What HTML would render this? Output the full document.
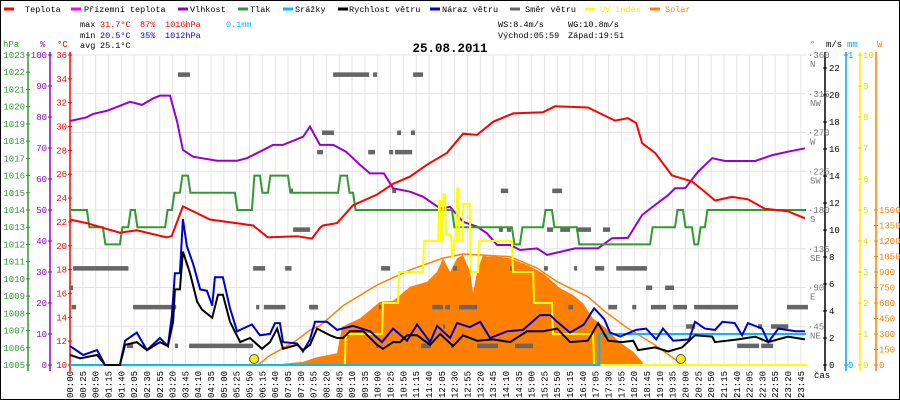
<!DOCTYPE html>
<html><head><meta charset="utf-8"><style>
html,body{margin:0;padding:0;background:#fff;}
svg{display:block;}
text{font-family:"Liberation Mono",monospace;}
</style></head><body>
<svg id="c" width="900" height="400" xmlns="http://www.w3.org/2000/svg">
<rect x="0.5" y="0.5" width="899" height="399" fill="#fff" stroke="#000"/>
<g font-size="8.5">
<line x1="4" y1="9" x2="14" y2="9" stroke="#f00" stroke-width="3"/><text x="25" y="12" fill="#000">Teplota</text>
<line x1="71" y1="9" x2="81" y2="9" stroke="#f0f" stroke-width="3"/><text x="84" y="12">Přízemní teplota</text>
<line x1="178" y1="9" x2="188" y2="9" stroke="#9900cc" stroke-width="3"/><text x="190" y="12">Vlhkost</text>
<line x1="238" y1="9" x2="248" y2="9" stroke="#339933" stroke-width="3"/><text x="250" y="12">Tlak</text>
<line x1="283" y1="9" x2="293" y2="9" stroke="#00bbff" stroke-width="3"/><text x="295" y="12">Srážky</text>
<line x1="338" y1="9" x2="348" y2="9" stroke="#000" stroke-width="3"/><text x="349" y="12">Rychlost větru</text>
<line x1="430" y1="9" x2="440" y2="9" stroke="#0000cc" stroke-width="3"/><text x="442" y="12">Náraz větru</text>
<line x1="510" y1="9" x2="520" y2="9" stroke="#666" stroke-width="3"/><text x="525" y="12">Směr větru</text>
<line x1="585" y1="9" x2="595" y2="9" stroke="#ff0" stroke-width="3"/><text x="600" y="12" fill="#ee0">UV index</text>
<line x1="650" y1="9" x2="660" y2="9" stroke="#ff8000" stroke-width="3"/><text x="665" y="12" fill="#ff8000">Solar</text>
</g>
<g font-size="8.5">
<text x="80" y="27">max</text><text x="100" y="27" fill="#f00">31.7°C</text><text x="140" y="27" fill="#f00">87%</text><text x="165" y="27" fill="#f00">1016hPa</text><text x="226" y="27" fill="#00bbff">0.1mm</text>
<text x="80" y="38">min</text><text x="100" y="38" fill="#00c">20.5°C</text><text x="140" y="38" fill="#00c">35%</text><text x="165" y="38" fill="#00c">1012hPa</text>
<text x="80" y="48">avg</text><text x="100" y="48">25.1°C</text>
<text x="498" y="27">WS:8.4m/s</text><text x="568" y="27">WG:10.8m/s</text>
<text x="498" y="38">Východ:05:59</text><text x="568" y="38">Západ:19:51</text>
</g>
<text x="450" y="52" text-anchor="middle" font-size="12.5" font-weight="bold">25.08.2011</text>
<g id="grid"></g>
<g id="axes"></g>
<g id="series"></g>
<text x="814" y="378" font-size="9" fill="#000">čas</text>
</svg>
<script>
// ---- data (hours since midnight, values in native units) ----
const tempH=[0,0.54,1.62,2.17,3.14,3.3,3.67,4.55,5.95,6.43,7.38,7.86,8.12,8.22,8.68,9.2,9.98,10.5,11.05,11.6,12.25,12.77,13.23,13.75,14.4,15.37,15.76,16.83,17.71,18.13,18.4,18.59,19.01,19.56,20.21,20.64,20.96,21.51,22.03,22.58,23.33,23.88];
const tempV=[22.2,21.9,21.1,21.3,20.7,20.8,23.3,22.2,21.7,20.7,20.8,20.6,21.5,21.7,21.9,23.4,24.3,25.2,25.8,26.8,27.8,29.4,29.3,30.4,31.1,31.2,31.7,31.6,30.5,30.7,30.3,28.6,27.8,25.9,25.4,24.5,23.8,24.1,23.9,23.1,22.9,22.3];
const humH=[0,0.54,0.75,1.2,1.62,1.95,2.34,2.7,2.92,3.25,3.48,3.67,4.0,4.78,5.43,5.75,6.17,6.6,6.92,7.57,7.8,8.12,8.55,8.97,9.43,9.75,10.2,10.5,11.05,11.47,12.03,12.35,12.77,13.23,13.55,13.88,14.3,14.63,15.18,15.5,15.93,16.41,17.16,17.61,18.13,18.59,19.01,19.44,19.66,19.99,20.41,20.87,21.29,22.27,22.82,23.33,23.88];
const humV=[78.7,79.9,81,82,83.6,84.9,83.9,86,86.9,86.9,78.5,69.4,67.2,65.9,65.9,66.7,68.8,71,71,73.6,76.9,71,71,68.8,64.5,61.8,61.8,57,55.9,54.3,50.5,51,46.2,44.6,42.5,38.7,38.7,37.1,37.6,35.5,36.5,37.6,37.6,40.9,41,48.4,51.6,54.8,57,57,62.4,66.7,65.8,65.8,67.7,68.8,69.9];
const presH=[0,0.55,1.07,1.62,1.89,2.11,3.09,3.31,3.57,3.83,5.36,5.91,6.17,6.43,7.08,8.71,9.0,9.2,12.41,14.36,14.62,15.37,15.66,16.47,18.85,19.66,19.92,20.21,20.41,20.63];
const presV=[1014,1013,1012,1013,1014,1013,1014,1015,1016,1015,1014,1016,1015,1016,1015,1016,1015,1014,1013,1012,1013,1014,1013,1012,1013,1014,1013,1012,1013,1014];
const wsH=[0,0.33,0.88,1.14,1.62,1.79,2.17,2.5,2.92,3.18,3.35,3.41,3.57,3.67,3.9,4.13,4.29,4.62,4.81,4.97,5.2,5.53,5.85,6.24,6.5,6.73,6.92,7.38,7.57,7.8,8.03,8.45,8.68,8.87,9.1,9.53,9.98,10.17,10.5,10.73,10.95,11.28,11.7,12.03,12.45,12.77,13.23,13.75,14.3,14.85,15.37,15.83,16.25,16.83,17.16,17.49,17.94,18.3,18.46,19.01,19.44,19.89,20.31,20.87,20.96,21.71,22.27,22.69,23.33,23.88];
const wsV=[0.74,0.5,0.74,0,0,1.5,1.7,1.1,1.7,1.4,3.2,5.6,5.6,8.4,6.8,4.7,4.1,3.5,5.2,5.2,3.2,1.7,2,1.2,1.7,2.7,1.2,1.5,1.1,1.5,2.7,2.2,2,2,2.5,2.5,1.5,1.2,1.7,1.7,2.2,2.2,1.5,2.3,1.4,2.2,1.8,1.9,1.7,2.5,2.5,2.7,1.7,1.8,3.1,1.8,1.7,1.8,1.1,1.3,1.0,1.3,2.2,2.1,1.7,1.9,2.1,1.7,2.1,1.9];
const wgH=[0,0.43,0.88,1.14,1.62,1.79,2.17,2.5,2.92,3.18,3.31,3.41,3.57,3.67,3.8,4.0,4.23,4.45,4.62,4.71,4.97,5.2,5.43,5.62,5.91,6.17,6.5,6.66,6.82,6.92,7.38,7.57,7.8,7.96,8.35,8.68,9.2,9.75,10.14,10.5,10.95,11.28,11.7,11.93,12.35,12.58,12.99,13.33,13.65,14.2,14.72,15.27,15.6,15.83,16.25,16.7,17.03,17.36,17.55,17.88,18.4,18.72,19.05,19.27,19.6,20.12,20.31,20.63,20.96,21.2,21.6,21.84,22.03,22.49,22.69,23.02,23.58,23.88];
const wgV=[1.4,0.74,1.1,0,0,1.8,2.4,1.1,2,1.4,3.7,6.8,6.8,10.8,8.8,7.5,5.6,5.5,4.4,6.5,6.5,4.2,2.5,2.7,3,2.2,2.3,3.1,3.1,1.7,1.6,1.0,1.9,3.2,3.2,2.6,2.9,2.5,1.7,2.7,1.8,3.0,1.7,2.9,2.0,3.1,2.8,3.2,2.0,2.5,2.6,3.7,3.7,3.2,2.4,3.0,4.2,3.4,2.4,2.1,2.6,2.7,1.9,2.7,1.8,1.9,3.2,2.7,2.6,3.2,3.1,2.2,3.1,2.7,1.7,2.7,2.5,2.5];
const rainH=[0,17.2,23.92];
const rainV=[0,0.1,0.1];
const uvH=[0,8.93,10.14,10.66,11.47,11.96,12.03,12.1,12.19,12.38,12.45,12.55,12.62,12.75,12.99,13.26,14.36,15.05,15.66,17.0,23.92];
const uvV=[0,1,2,3,4,5.3,4,5.5,4.2,3.5,4,5.7,4,5.2,3,4,3,2,1,0,0];
const solMaxH=[6.12,6.43,7.38,7.8,8.12,8.9,9.98,11.05,12.12,12.77,14.3,15.18,15.83,16.83,17.39,18.13,19.01,19.76,19.85];
const solMaxV=[0,80,242,339,380,580,774,920,1035,1074,1048,939,806,661,516,355,194,32,0];
const solH=[6.6,7.2,7.57,7.96,8.1,8.68,8.84,9.43,10.07,10.5,11.05,11.6,11.93,12.12,12.35,12.58,12.77,13.0,13.1,13.23,13.42,13.55,13.88,14.3,14.85,15.37,15.93,16.35,16.67,16.99,17.42,17.84,18.3,18.59,18.65];
const solV=[0,20,30,70,80,113,371,452,613,620,758,806,903,1033,900,1033,1065,900,697,900,1065,1050,1050,1033,968,887,742,677,597,452,355,226,129,32,0];
const dirStart=[0.0,0.05,0.1,1.85,2.05,3.41,3.51,3.87,5.95,6.05,6.3,6.99,7.15,7.25,7.77,7.8,8.03,8.19,8.55,9.69,9.85,9.95,10.04,10.11,10.37,10.47,10.56,10.63,11.08,11.15,11.41,11.77,12.12,12.19,12.38,12.45,12.64,13.23,13.94,14.0,14.2,14.3,14.46,15.4,15.5,15.67,15.76,15.93,16.19,16.38,16.45,17.06,17.32,17.49,17.75,18.27,18.72,18.88,19.34,19.6,20.02,20.28,21.68,22.36,22.46,22.78,23.3];
const dirEnd=[0.1,0.2,1.9,2.05,3.45,3.51,3.9,5.95,6.34,6.15,7.0,7.2,7.25,7.8,8.06,8.03,8.22,8.58,9.72,9.91,9.98,10.01,10.11,10.4,10.5,10.6,11.12,10.76,11.21,11.47,11.73,12.12,12.19,12.35,12.45,12.58,13.23,13.91,14.07,14.24,14.33,14.4,15.05,15.53,15.7,15.93,15.99,16.25,16.35,16.48,16.93,17.36,17.55,17.78,18.75,18.4,18.92,19.37,19.63,20.05,20.31,21.71,22.39,22.49,22.85,23.34,23.98];
const dirDeg=[90,67.5,112.5,22.5,67.5,22.5,337.5,22.5,112.5,67.5,67.5,112.5,202.5,157.5,67.5,67.5,247.5,270,337.5,247.5,337.5,22.5,67.5,112.5,247.5,202.5,247.5,270,270,337.5,22.5,67.5,45,67.5,22.5,112.5,67.5,22.5,157.5,202.5,157.5,112.5,22.5,112.5,157.5,202.5,202.5,157.5,67.5,112.5,157.5,112.5,157.5,67.5,112.5,67.5,90,67.5,90,67.5,45,67.5,22.5,45,22.5,45,67.5];
const hpaTicks=[1005,1006,1007,1008,1009,1010,1011,1012,1013,1014,1015,1016,1017,1018,1019,1020,1021,1022,1023];
const pctTicks=[0,10,20,30,40,50,60,70,80,90,100];
const tempTicks=[10,12,14,16,18,20,22,24,26,28,30,32,34,36];
const dirTicks=[45,90,135,180,225,270,315,360];
const dirNames=["NE","E","SE","S","SW","W","NW","N"];
const msTicks=[0,2,4,6,8,10,12,14,16,18,20,22];
const uvTicks=[0,1,2,3,4,5,6,7,8,9,10];
const wTicks=[0,150,300,450,600,750,900,1050,1200,1350,1500];

// ---- scales ----
const X0=70,X1=806,Y0=365,Y1=55,DAY=1435/60;
const X=h=>X0+h/DAY*(X1-X0);
const Yt=v=>Y0-(v-10)/26*(Y0-Y1);
const Yp=v=>Y0-v/100*(Y0-Y1);
const Yh=v=>Y0-(v-1005)/18*(Y0-Y1);
const Yw=v=>Y0-v*13.5;
const Yd=v=>Y0-v/360*(Y0-Y1);
const Ymm=v=>Y0-v*(Y0-Y1);
const Yuv=v=>Y0-v/10*(Y0-Y1);
const Ys=v=>Y0-v/3000*(Y0-Y1);

const NS="http://www.w3.org/2000/svg";
function mk(tag,attrs,parent){const e=document.createElementNS(NS,tag);for(const k in attrs)e.setAttribute(k,attrs[k]);parent.appendChild(e);return e;}
const grid=document.getElementById('grid'),axes=document.getElementById('axes'),ser=document.getElementById('series');

// grid + x labels
for(let m=0;m<=1435;m+=25){
  const x=X(m/60);
  const gl=mk('line',{x1:x,y1:Y1,x2:x,y2:Y0,stroke:'#e4e4e4','stroke-width':1},grid);
  
  
  const hh=String(Math.floor(m/60)).padStart(2,'0'),mm=String(m%60).padStart(2,'0');
  const t=mk('text',{x:0,y:0,'font-size':9,transform:`translate(${x+3},398) rotate(-90)`},axes);
  t.textContent=hh+':'+mm;
  
  
}
for(let i=0;i<=8;i++){
  const y=Y1+i*(Y0-Y1)/8;
  const gl=mk('line',{x1:X0,y1:y,x2:X1,y2:y,stroke:'#e4e4e4','stroke-width':1},grid);
  
  
}
// left axes
function vaxis(x,col,name){const l=mk('line',{x1:x,y1:Y1-3,x2:x,y2:Y0+6,stroke:col,'stroke-width':1.5},axes);}
vaxis(28,'#339933','hpa-axis');vaxis(50,'#9900cc','humidity-axis');vaxis(70,'#f00','temp-axis');
vaxis(825,'#000','ms-axis');vaxis(846,'#00aaee','mm-axis');vaxis(860,'#ffee00','uv-axis');vaxis(876,'#ff8000','w-axis');
function tick(x,y,col,label,tx,anchor,name){
  mk('line',{x1:x-2,y1:y,x2:x+2,y2:y,stroke:col},axes);
  const t=mk('text',{x:tx,y:y+3,fill:col,'font-size':9,'text-anchor':anchor},axes);
  t.textContent=label;
  
  
}
hpaTicks.forEach(v=>tick(28,Yh(v),'#339933',v,25,'end','hpa-tick-label'));
pctTicks.forEach(v=>tick(50,Yp(v),'#9900cc',v,47,'end','humidity-tick-label'));
tempTicks.forEach(v=>tick(70,Yt(v),'#f00',v,67,'end','temp-tick-label'));
msTicks.forEach(v=>tick(825,Yw(v),'#000',v,829,'start','ms-tick-label'));
uvTicks.forEach(v=>tick(860,Yuv(v),'#e8d800',v,863,'start','uv-tick-label'));
wTicks.forEach(v=>tick(876,Ys(v),'#ff8000',v,879,'start','w-tick-label'));
tick(846,Ymm(1),'#00aaee','1',848,'start','mm-tick-label');
tick(846,Ymm(0),'#00aaee','0',848,'start','mm-tick-label');
dirTicks.forEach((v,i)=>{
  const y=Yd(v);
  const t=mk('text',{x:808,y:y+3,fill:'#777','font-size':9},axes);t.textContent='·'+v;
  
  
  const t2=mk('text',{x:810,y:y+12,fill:'#777','font-size':9},axes);t2.textContent=dirNames[i];
  
  
});
[['hPa',3,'#339933'],['%',40,'#9900cc'],['°C',57,'#f00'],['m/s',826,'#000'],['mm',847,'#00aaee'],['W',877,'#ff8000'],['°',810,'#777']].forEach(a=>{
  const t=mk('text',{x:a[1],y:47,fill:a[2],'font-size':9},axes);t.textContent=a[0];
  
  
});

// series
function pts(H,V,yf){return H.map((h,i)=>X(h).toFixed(1)+','+yf(V[i]).toFixed(1)).join(' ');}
function stepPts(H,V,yf,ramp){const p=[];for(let i=0;i<H.length;i++){if(i>0)p.push([X(H[i]),yf(V[i-1])]);p.push([X(H[i])+(i>0?ramp:0),yf(V[i])]);}p.push([X1,yf(V[V.length-1])]);return p.map(a=>a[0].toFixed(1)+','+a[1].toFixed(1)).join(' ');}
// solar measured area
const sa=mk('polygon',{points:X(solH[0])+','+Y0+' '+pts(solH,solV,Ys)+' '+X(solH[solH.length-1])+','+Y0,fill:'#ff8000'},ser);


const sm=mk('polyline',{points:pts(solMaxH,solMaxV,Ys),fill:'none',stroke:'#ff8000','stroke-width':1.5},ser);


// direction blocks
dirDeg.forEach((d,i)=>{
  const r=mk('rect',{x:X(dirStart[i]),y:Yd(d)-2,width:Math.max(2,X(dirEnd[i])-X(dirStart[i])),height:4.5,fill:'#666'},ser);
  
  
});
const hum=mk('polyline',{points:pts(humH,humV,Yp),fill:'none',stroke:'#9900cc','stroke-width':2},ser);


const pr=mk('polyline',{points:stepPts(presH,presV,Yh,2.5),fill:'none',stroke:'#339933','stroke-width':2},ser);


const tp=mk('polyline',{points:pts(tempH,tempV,Yt),fill:'none',stroke:'#f00','stroke-width':2},ser);


const uv=mk('polyline',{points:stepPts(uvH,uvV,Yuv,1),fill:'none',stroke:'#ffff00','stroke-width':2},ser);


const rn=mk('polyline',{points:stepPts(rainH,rainV,Ymm,0),fill:'none',stroke:'#00bbff','stroke-width':2},ser);


const wg=mk('polyline',{points:pts(wgH,wgV,Yw),fill:'none',stroke:'#0000cc','stroke-width':2},ser);


const ws=mk('polyline',{points:pts(wsH,wsV,Yw),fill:'none',stroke:'#000','stroke-width':2},ser);


[5+59/60,19+51/60].forEach((h,i)=>{
  const c=mk('circle',{cx:X(h),cy:359,r:4.5,fill:'#ffee00',stroke:'#555','stroke-width':1},ser);
  
  
});
</script>
</body></html>
